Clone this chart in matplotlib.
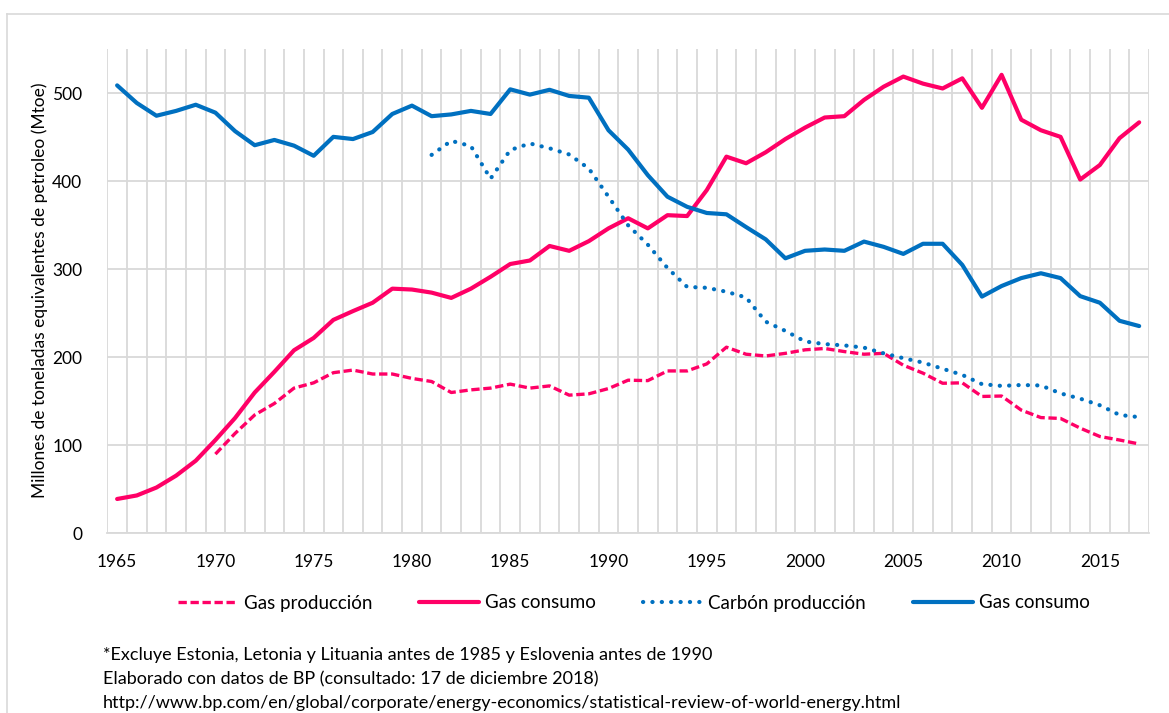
import matplotlib
matplotlib.use("Agg")
import matplotlib.pyplot as plt
from matplotlib.lines import Line2D

plt.rcParams['font.family'] = ['Lato', 'DejaVu Sans']

# Data (Mtoe)
YEARS = list(range(1965, 2018))

GAS_CONSUMO = [39, 43, 52, 65.5, 82.5, 106, 131, 160, 183.5, 208, 222, 242.5, 252.5, 262,
               278, 277, 273.5, 267.5, 278, 291.5, 306, 310, 326.5, 321, 332, 346.5,
               358, 346.5, 361.5, 360.5, 390, 428, 420.5, 433, 448, 461, 472.5, 474,
               492.5, 507.5, 519, 511, 505.5, 517, 483.5, 521, 470, 458, 450.5, 402,
               418.5, 449, 467]

GAS_PROD_YEARS = list(range(1970, 2018))
GAS_PRODUCCION = [90, 113.5, 134.5, 147.5, 165, 171, 182.5, 185.5, 181, 181, 176, 172.5,
                  160, 163, 165, 169.5, 165, 167.5, 157, 158.5, 164.5, 174, 173.5,
                  184.5, 184.5, 192.5, 211.5, 203.5, 201.5, 204.5, 208.5, 210, 206.5,
                  203.5, 204.5, 191, 182, 170.5, 171, 155.5, 156, 140, 131.5, 130.5,
                  119.5, 110, 106, 101.5]

CARBON_YEARS = list(range(1981, 2018))
CARBON_PRODUCCION = [430, 446, 440, 403, 435.5, 443, 437.5, 430.5, 414.5, 382.5, 350,
                     328, 301.5, 280, 279, 274.5, 268, 240.5, 230, 218, 215, 213.5, 211,
                     204.5, 199, 194, 187, 180, 169.5, 167.5, 168.5, 168, 159, 153,
                     145.5, 134.5, 132]

PETROLEO_CONSUMO = [509, 489, 474.5, 480, 487, 478, 457, 441, 447, 440.5, 429, 450.5,
                    448, 456, 476.5, 486, 474, 476, 480, 476.5, 504.5, 498.5, 504, 497,
                    495, 458, 436, 407, 382.5, 371, 364, 362.5, 348, 334, 312.5, 321,
                    322.5, 321, 331.5, 325.5, 317.5, 329, 329, 305, 269, 281, 290, 295.5,
                    290, 269.5, 262, 241.5, 235.5]

NOTES = [
    "*Excluye Estonia, Letonia y Lituania antes de 1985 y Eslovenia antes de 1990",
    "Elaborado con datos de BP (consultado: 17 de diciembre 2018)",
    "http://www.bp.com/en/global/corporate/energy-economics/statistical-review-of-world-energy.html",
]

PINK = "#FF0066"
BLUE = "#0070C0"
GRID = "#D9D9D9"

W, H = 1169, 713
fig = plt.figure(figsize=(W / 100, H / 100), dpi=100)
ax = fig.add_axes([107.3 / W, 1 - 533.3 / H, (1149 - 107.3) / W, (533.3 - 49.3) / H])

ax.plot(GAS_PROD_YEARS, GAS_PRODUCCION, color=PINK, lw=2.4, ls=(0, (2.5, 1.1)),
        label="Gas producción")
ax.plot(YEARS, GAS_CONSUMO, color=PINK, lw=3.0, solid_capstyle='round',
        solid_joinstyle='round', label="Gas consumo")
ax.plot(CARBON_YEARS, CARBON_PRODUCCION, color=BLUE, lw=3.0, ls=(0, (0.05, 2.2)),
        dash_capstyle='round', label="Carbón producción")
ax.plot(YEARS, PETROLEO_CONSUMO, color=BLUE, lw=3.0, solid_capstyle='round',
        solid_joinstyle='round', label="Gas consumo")

# category-style axis: gridlines between years
ax.set_xlim(1964.5, 2017.5)
ax.set_ylim(0, 550)
ax.set_xticks(range(1965, 2016, 5))
ax.set_xticks([y - 0.5 for y in range(1965, 2019)], minor=True)
ax.set_yticks(range(0, 501, 100))
ax.grid(True, which='minor', axis='x', color=GRID, lw=1.3)
ax.grid(True, which='major', axis='y', color=GRID, lw=1.3)
ax.set_axisbelow(True)
ax.tick_params(which='both', length=0)
ax.tick_params(axis='y', pad=18, labelsize=12.5, labelcolor='#000000')
ax.tick_params(axis='x', pad=15, labelsize=12.5, labelcolor='#000000')
for side in ['top', 'right', 'left']:
    ax.spines[side].set_visible(False)
ax.spines['bottom'].set_color(GRID)
ax.spines['bottom'].set_linewidth(1.3)

fig.text(40 / W, 1 - 290 / H, "Millones de toneladas equivalentes de petroleo (Mtoe)",
         rotation=90, ha='center', va='center', fontsize=12.5)

fig.legend(loc='center', bbox_to_anchor=(634 / W, 1 - 603 / H), ncol=4, frameon=False,
           fontsize=13.5, handlelength=3.2, columnspacing=2.5, handletextpad=0.3)

for i, line in enumerate(NOTES):
    fig.text(103 / W, 1 - (655 + 24 * i) / H, line, ha='left', va='center', fontsize=13)

# outer chart border (left and top visible)
fig.add_artist(Line2D([7 / W, 7 / W], [0, 1 - 14 / H], color=GRID, lw=1.2))
fig.add_artist(Line2D([7 / W, 1], [1 - 14 / H, 1 - 14 / H], color=GRID, lw=1.2))

fig.savefig("out.png", dpi=100, facecolor='white')
